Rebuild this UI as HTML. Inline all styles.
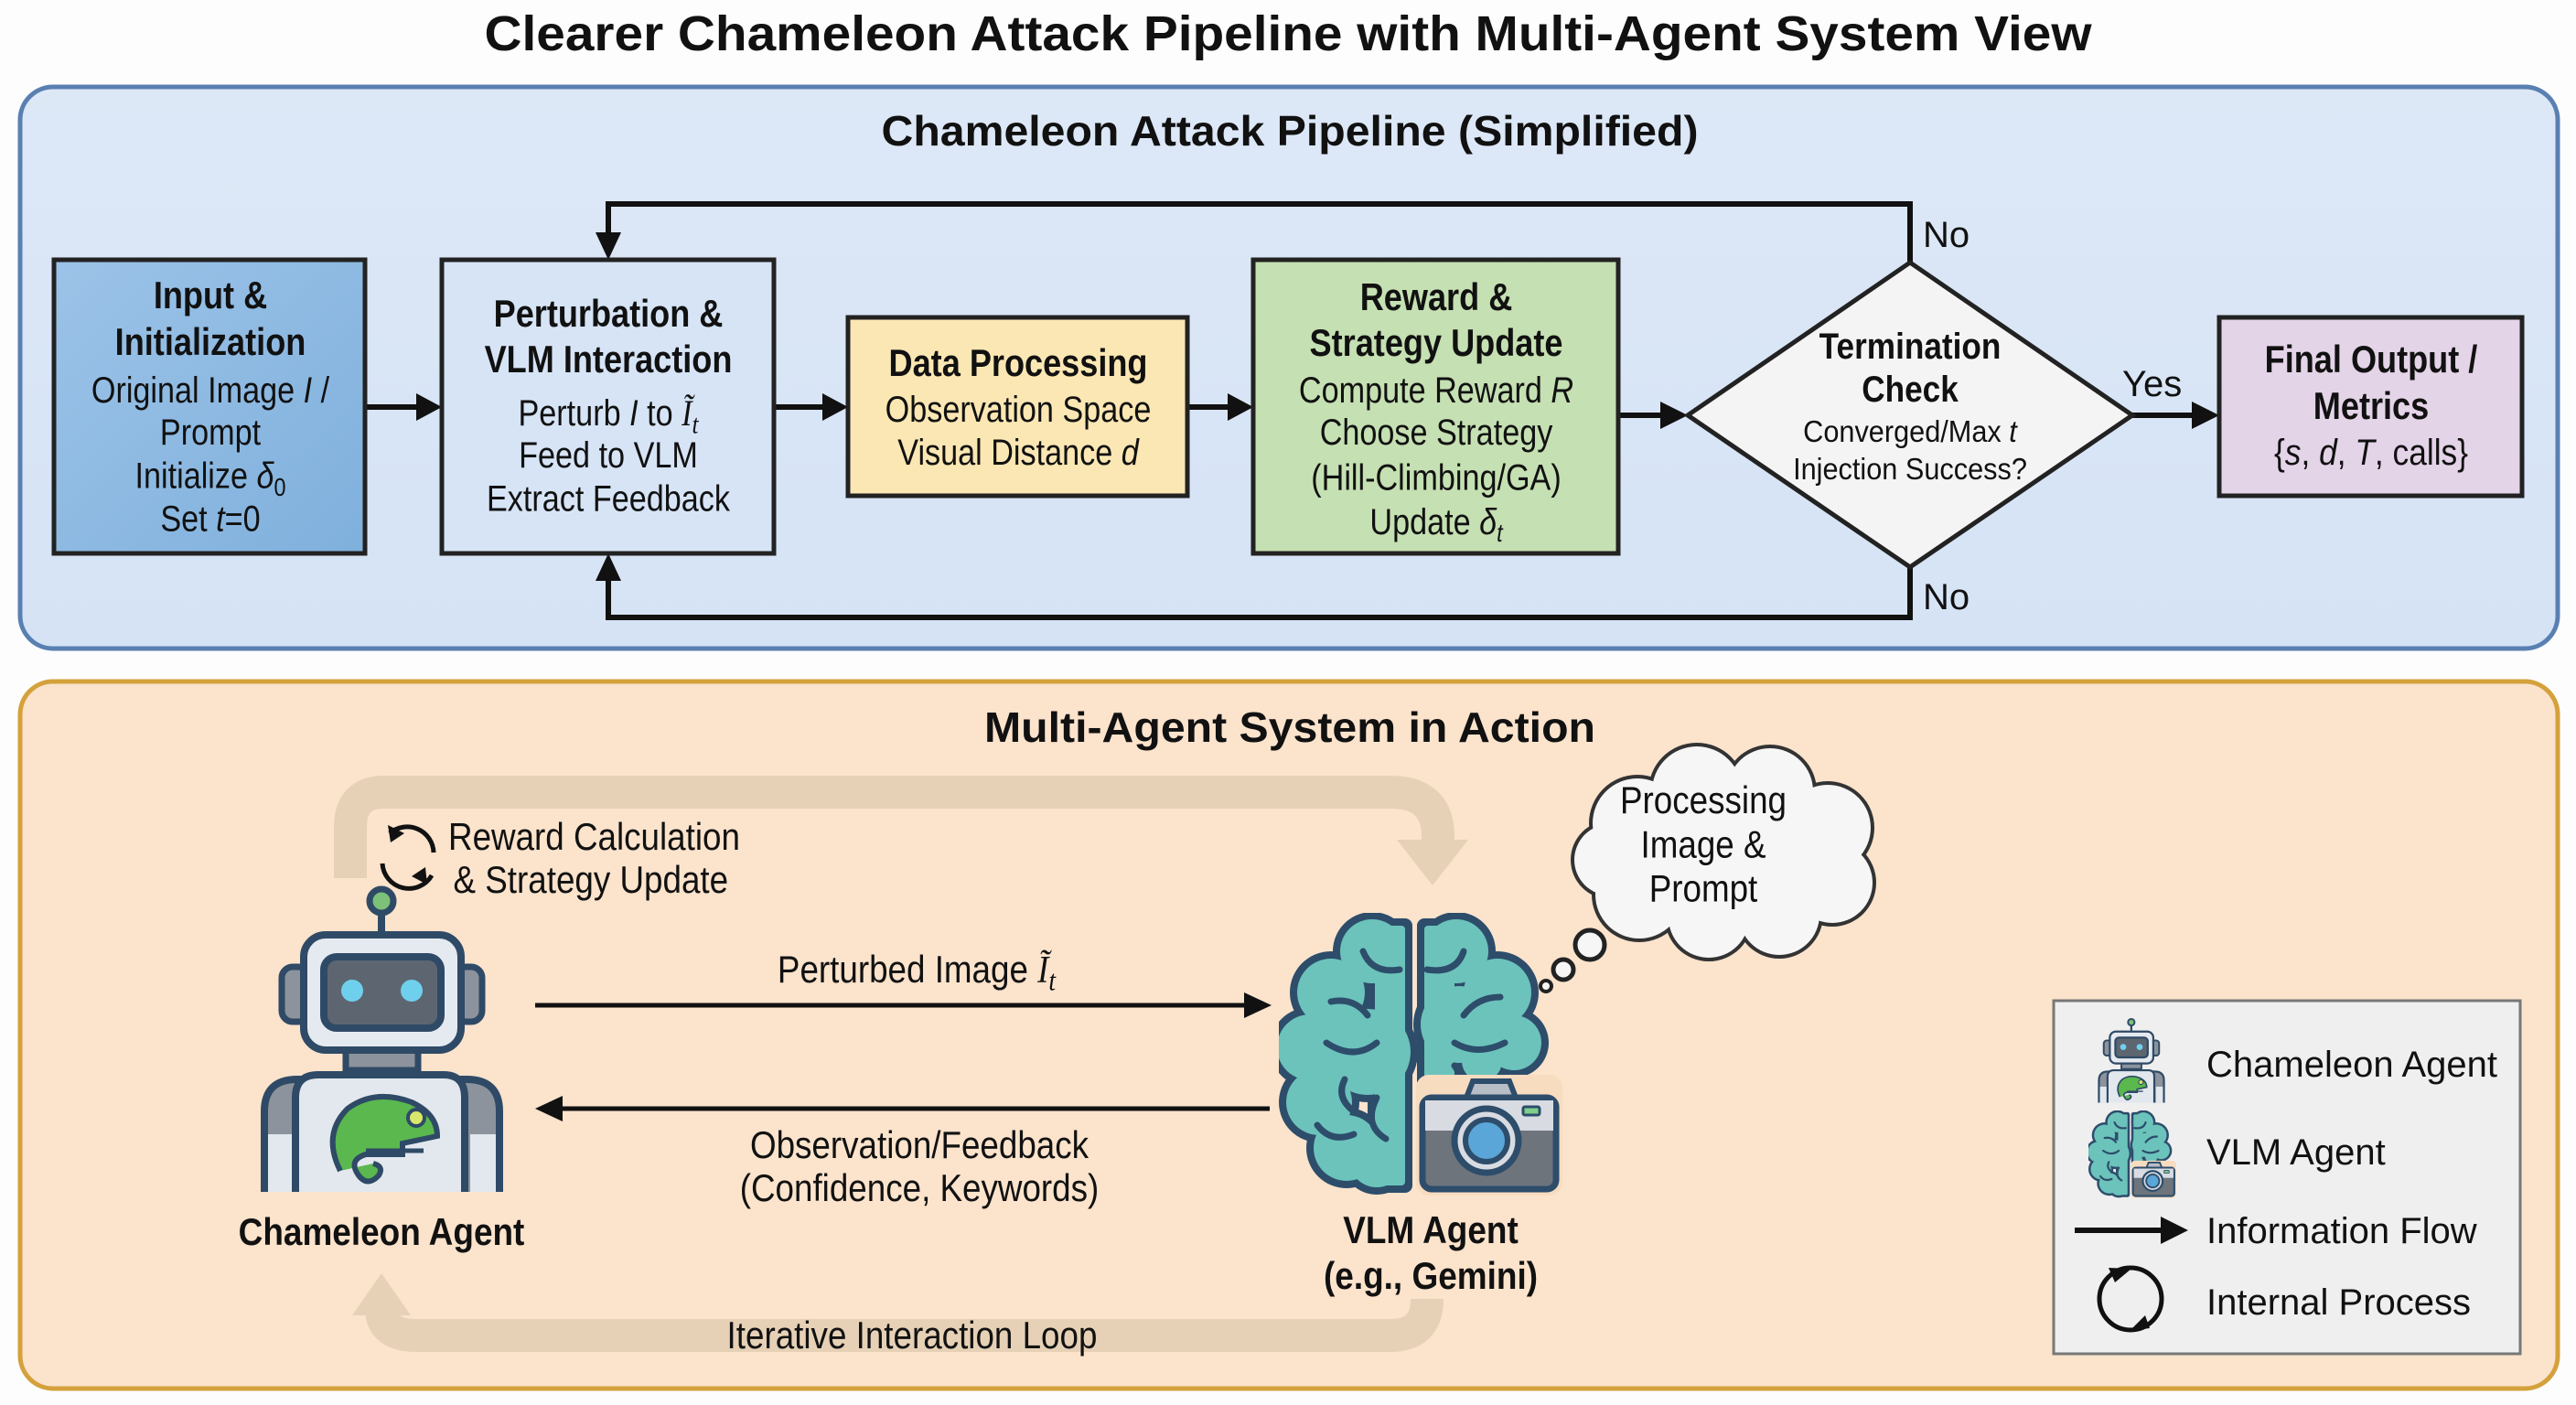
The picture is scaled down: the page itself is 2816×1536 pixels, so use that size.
<!DOCTYPE html>
<html><head><meta charset="utf-8"><style>
html,body{margin:0;padding:0;background:#fff}
svg{display:block}
text{font-family:"Liberation Sans",sans-serif;fill:#111}
.m{text-anchor:middle}
.b{font-weight:bold}
</style></head><body>
<svg width="2816" height="1536" viewBox="0 0 2816 1536" xmlns="http://www.w3.org/2000/svg">
<defs>
<linearGradient id="gIn" x1="0" y1="0" x2="1" y2="1"><stop offset="0" stop-color="#9cc3e8"/><stop offset="1" stop-color="#7fb0dc"/></linearGradient>
<linearGradient id="gPan" x1="0" y1="0" x2="0" y2="1"><stop offset="0" stop-color="#dde8f7"/><stop offset="1" stop-color="#d5e3f5"/></linearGradient>
<symbol id="robot" viewBox="280 965 275 340">
 <circle cx="417" cy="985" r="13" fill="#7cc07a" stroke="#2f4a66" stroke-width="7"/>
 <rect x="413" y="996" width="8" height="26" fill="#2f4a66"/>
 <rect x="308" y="1057" width="30" height="60" rx="12" fill="#8c939c" stroke="#2f4a66" stroke-width="7"/>
 <rect x="497" y="1057" width="30" height="60" rx="12" fill="#8c939c" stroke="#2f4a66" stroke-width="7"/>
 <rect x="378" y="1145" width="79" height="25" fill="#8c939c" stroke="#2f4a66" stroke-width="7"/>
 <path d="M289 1303 L289 1215 Q289 1180 325 1180 L510 1180 Q546 1180 546 1215 L546 1303" fill="#8c939c" stroke="#2f4a66" stroke-width="8"/>
 <path d="M323 1303 L323 1200 Q323 1175 348 1175 L485 1175 Q508 1175 508 1200 L508 1303" fill="#e3e8ee" stroke="#2f4a66" stroke-width="8"/>
 <rect x="293" y="1240" width="26" height="63" fill="#e3e8ee"/>
 <rect x="514" y="1240" width="28" height="63" fill="#e3e8ee"/>
 <rect x="332" y="1022" width="172" height="126" rx="24" fill="#e5eaf0" stroke="#2f4a66" stroke-width="8"/>
 <rect x="354" y="1046" width="128" height="78" rx="14" fill="#5d6670" stroke="#2f4a66" stroke-width="8"/>
 <circle cx="385" cy="1083" r="12" fill="#6fd0ee"/>
 <circle cx="450" cy="1083" r="12" fill="#6fd0ee"/>
 <path d="M372 1280 Q352 1240 380 1212 Q410 1190 450 1205 Q478 1218 478 1242 L440 1250 L440 1262 L400 1262 Q380 1268 392 1285 Q402 1298 414 1285 Q420 1275 408 1272" fill="#5ab84e" stroke="#2f4a66" stroke-width="6"/>
 <circle cx="455" cy="1222" r="9" fill="#d8e86a" stroke="#2f4a66" stroke-width="4"/>
 <line x1="400" y1="1258" x2="463" y2="1258" stroke="#2f4a66" stroke-width="5"/>
</symbol>
<symbol id="brain" viewBox="1398 998 310 310">
 <g fill="#2d4d6b">
  <circle cx="1500" cy="1040" r="43"/><circle cx="1455" cy="1085" r="45"/><circle cx="1432" cy="1145" r="44"/><circle cx="1442" cy="1205" r="44"/><circle cx="1472" cy="1255" r="44"/><circle cx="1505" cy="1268" r="38"/><circle cx="1495" cy="1150" r="55"/>
  <rect x="1495" y="1004" width="49" height="300" rx="8"/>
  <circle cx="1592" cy="1040" r="43"/><circle cx="1637" cy="1085" r="45"/><circle cx="1655" cy="1140" r="38"/><circle cx="1620" cy="1160" r="30"/><circle cx="1595" cy="1120" r="50"/>
  <rect x="1549" y="1004" width="49" height="186" rx="8"/>
 </g>
 <g fill="#6cc3bb">
  <circle cx="1500" cy="1040" r="35"/><circle cx="1455" cy="1085" r="37"/><circle cx="1432" cy="1145" r="36"/><circle cx="1442" cy="1205" r="36"/><circle cx="1472" cy="1255" r="36"/><circle cx="1505" cy="1268" r="30"/><circle cx="1495" cy="1150" r="47"/>
  <rect x="1503" y="1012" width="33" height="284" rx="4"/>
  <circle cx="1592" cy="1040" r="35"/><circle cx="1637" cy="1085" r="37"/><circle cx="1655" cy="1140" r="30"/><circle cx="1620" cy="1160" r="22"/><circle cx="1595" cy="1120" r="42"/>
  <rect x="1557" y="1012" width="33" height="170" rx="4"/>
 </g>
 <g fill="none" stroke="#2d4d6b" stroke-width="7" stroke-linecap="round">
  <path d="M1490 1040 Q1500 1065 1530 1060"/><path d="M1455 1095 Q1480 1090 1495 1110"/><path d="M1450 1140 Q1480 1160 1505 1140"/><path d="M1470 1180 Q1460 1200 1480 1215"/><path d="M1505 1200 Q1490 1230 1515 1245"/><path d="M1440 1230 Q1455 1250 1480 1240"/>
  <path d="M1600 1040 Q1592 1065 1560 1060"/><path d="M1640 1090 Q1615 1090 1600 1110"/><path d="M1645 1140 Q1615 1155 1590 1140"/><path d="M1590 1165 Q1600 1178 1585 1185"/>
 </g>
 <rect x="1548" y="1175" width="160" height="132" rx="14" fill="#f8dcc0"/>
 <path d="M1603 1200 L1610 1182 L1650 1182 L1657 1200 Z" fill="#b8bec6" stroke="#2d4d6b" stroke-width="6"/>
 <rect x="1555" y="1200" width="146" height="100" rx="10" fill="#6e747c" stroke="#2d4d6b" stroke-width="7"/>
 <rect x="1558" y="1203" width="140" height="33" fill="#d8dce2"/>
 <rect x="1665" y="1210" width="18" height="9" rx="2" fill="#7ed08a" stroke="#2d4d6b" stroke-width="3"/>
 <circle cx="1625" cy="1247" r="35" fill="#d8dce2" stroke="#2d4d6b" stroke-width="7"/>
 <circle cx="1625" cy="1247" r="23" fill="#5aa6d8" stroke="#2d4d6b" stroke-width="6"/>
</symbol>
</defs>
<rect width="2816" height="1536" fill="#fdfdfd"/>

<text x="1408" y="55" class="m b" font-size="54" textLength="1757" lengthAdjust="spacingAndGlyphs">Clearer Chameleon Attack Pipeline with Multi-Agent System View</text>

<rect x="22" y="95" width="2774" height="614" rx="36" fill="url(#gPan)" stroke="#5a80b2" stroke-width="5"/>
<text x="1410" y="159" class="m b" font-size="46" textLength="893" lengthAdjust="spacingAndGlyphs">Chameleon Attack Pipeline (Simplified)</text>

<g fill="none" stroke="#111" stroke-width="6">
 <polyline points="2088,287 2088,223 665,223 665,260"/>
 <polyline points="2088,620 2088,675 665,675 665,630"/>
 <line x1="399" y1="445" x2="460" y2="445"/>
 <line x1="846" y1="445" x2="905" y2="445"/>
 <line x1="1298" y1="445" x2="1348" y2="445"/>
 <line x1="1769" y1="454" x2="1822" y2="454"/>
 <line x1="2331" y1="454" x2="2405" y2="454"/>
</g>
<g fill="#111">
 <polygon points="665,284 651,254 679,254"/>
 <polygon points="665,605 651,635 679,635"/>
 <polygon points="483,445 455,430 455,460"/>
 <polygon points="927,445 899,430 899,460"/>
 <polygon points="1370,445 1342,430 1342,460"/>
 <polygon points="1845,454 1815,439 1815,469"/>
 <polygon points="2426,454 2396,439 2396,469"/>
</g>
<text x="2102" y="270" font-size="40">No</text>
<text x="2102" y="666" font-size="40">No</text>
<text x="2320" y="433" font-size="40">Yes</text>

<rect x="59" y="284" width="340" height="321" fill="url(#gIn)" stroke="#222" stroke-width="5"/>
<text transform="translate(230 337) scale(.86 1)" class="m b" font-size="42">Input &amp;<tspan x="0" dy="51">Initialization</tspan></text>
<text transform="translate(230 440) scale(.9 1.05)" class="m" font-size="38">Original Image <tspan font-style="italic">I</tspan> /<tspan x="0" dy="44">Prompt</tspan><tspan x="0" dy="45">Initialize <tspan font-style="italic">δ</tspan><tspan font-size="26" dy="8">0</tspan></tspan><tspan x="0" dy="37">Set <tspan font-style="italic">t</tspan>=0</tspan></text>

<rect x="483" y="284" width="363" height="321" fill="#d6e4f6" stroke="#222" stroke-width="5"/>
<text transform="translate(665 357) scale(.86 1)" class="m b" font-size="42">Perturbation &amp;<tspan x="0" dy="50">VLM Interaction</tspan></text>
<text transform="translate(665 465) scale(.9 1.05)" class="m" font-size="38">Perturb <tspan font-style="italic">I</tspan> to <tspan font-style="italic" font-family="Liberation Serif">Ĩ</tspan><tspan font-style="italic" font-family="Liberation Serif" font-size="28" dy="8">t</tspan><tspan x="0" dy="36">Feed to VLM</tspan><tspan x="0" dy="45">Extract Feedback</tspan></text>

<rect x="927" y="347" width="371" height="195" fill="#fbe7b3" stroke="#222" stroke-width="5"/>
<text transform="translate(1113 411) scale(.86 1)" class="m b" font-size="42">Data Processing</text>
<text transform="translate(1113 461) scale(.9 1.05)" class="m" font-size="38">Observation Space<tspan x="0" dy="45">Visual Distance <tspan font-style="italic">d</tspan></tspan></text>

<rect x="1370" y="284" width="399" height="321" fill="#c5e0b2" stroke="#222" stroke-width="5"/>
<text transform="translate(1570 339) scale(.86 1)" class="m b" font-size="42">Reward &amp;<tspan x="0" dy="50">Strategy Update</tspan></text>
<text transform="translate(1570 440) scale(.9 1.05)" class="m" font-size="38">Compute Reward <tspan font-style="italic">R</tspan><tspan x="0" dy="44">Choose Strategy</tspan><tspan x="0" dy="47">(Hill-Climbing/GA)</tspan><tspan x="0" dy="46">Update <tspan font-style="italic">δ</tspan><tspan font-size="26" font-style="italic" dy="8">t</tspan></tspan></text>

<polygon points="2088,287 2331,454 2088,620 1845,454" fill="#f4f4f4" stroke="#222" stroke-width="5"/>
<text transform="translate(2088 392) scale(.88 1)" class="m b" font-size="40">Termination<tspan x="0" dy="47">Check</tspan></text>
<text transform="translate(2088 483) scale(.93 1)" class="m" font-size="33">Converged/Max <tspan font-style="italic">t</tspan><tspan x="0" dy="41">Injection Success?</tspan></text>

<rect x="2426" y="347" width="331" height="195" fill="#e4d4e8" stroke="#222" stroke-width="5"/>
<text transform="translate(2592 407) scale(.86 1)" class="m b" font-size="42">Final Output /<tspan x="0" dy="51">Metrics</tspan></text>
<text transform="translate(2592 508) scale(.93 1.05)" class="m" font-size="38">{<tspan font-style="italic">s</tspan>, <tspan font-style="italic">d</tspan>, <tspan font-style="italic">T</tspan>, calls}</text>

<rect x="22" y="745" width="2774" height="773" rx="36" fill="#fbe3cc" stroke="#d4a13c" stroke-width="5"/>
<text x="1410" y="811" class="m b" font-size="46" textLength="668" lengthAdjust="spacingAndGlyphs">Multi-Agent System in Action</text>

<path d="M383 960 L383 905 Q383 866 420 866 L1520 866 Q1572 866 1572 915 L1572 925" fill="none" stroke="#e6d1b6" stroke-width="36"/>
<polygon points="1527,918 1605,918 1566,968" fill="#e6d1b6"/>
<path d="M1560 1420 Q1560 1460 1520 1460 L455 1460 Q417 1460 417 1430" fill="none" stroke="#e6d1b6" stroke-width="36" stroke-linejoin="round"/>
<polygon points="385,1438 449,1438 417,1392" fill="#e6d1b6"/>

<g fill="none" stroke="#111" stroke-width="5">
 <path d="M426 911 A29 29 0 0 1 474 932"/>
 <path d="M472 957 A29 29 0 0 1 418 944"/>
</g>
<polygon points="424,902 442,911 427,921" fill="#111"/>
<polygon points="467,967 450,958 465,948" fill="#111"/>
<text transform="translate(490 929) scale(.92 1.05)" font-size="40">Reward Calculation<tspan x="6" dy="45">&amp; Strategy Update</tspan></text>

<use href="#robot" x="280" y="965" width="275" height="340"/>
<text transform="translate(417 1361) scale(.88 1)" class="m b" font-size="42">Chameleon Agent</text>

<line x1="585" y1="1099" x2="1365" y2="1099" stroke="#111" stroke-width="5"/>
<polygon points="1390,1099 1360,1085 1360,1113" fill="#111"/>
<text transform="translate(1002 1074) scale(.92 1.05)" class="m" font-size="40">Perturbed Image <tspan font-style="italic" font-family="Liberation Serif">Ĩ</tspan><tspan font-style="italic" font-family="Liberation Serif" font-size="30" dy="8">t</tspan></text>
<line x1="610" y1="1212" x2="1388" y2="1212" stroke="#111" stroke-width="5"/>
<polygon points="585,1212 615,1198 615,1226" fill="#111"/>
<text transform="translate(1005 1266) scale(.92 1.05)" class="m" font-size="40">Observation/Feedback<tspan x="0" dy="45">(Confidence, Keywords)</tspan></text>
<text transform="translate(997 1474) scale(.92 1.05)" class="m" font-size="40">Iterative Interaction Loop</text>

<use href="#brain" x="1398" y="998" width="310" height="310"/>
<text transform="translate(1564 1359) scale(.88 1)" class="m b" font-size="42">VLM Agent<tspan x="0" dy="50">(e.g., Gemini)</tspan></text>

<g fill="#333">
 <circle cx="1790" cy="900" r="53"/><circle cx="1855" cy="865" r="53"/><circle cx="1935" cy="865" r="51"/><circle cx="1998" cy="905" r="51"/><circle cx="2003" cy="965" r="48"/><circle cx="1945" cy="1000" r="48"/><circle cx="1868" cy="1003" r="48"/><circle cx="1792" cy="978" r="52"/><circle cx="1760" cy="940" r="43"/><circle cx="1890" cy="935" r="80"/>
</g>
<g fill="#f6f6f6">
 <circle cx="1790" cy="900" r="49"/><circle cx="1855" cy="865" r="49"/><circle cx="1935" cy="865" r="47"/><circle cx="1998" cy="905" r="47"/><circle cx="2003" cy="965" r="44"/><circle cx="1945" cy="1000" r="44"/><circle cx="1868" cy="1003" r="44"/><circle cx="1792" cy="978" r="48"/><circle cx="1760" cy="940" r="39"/><circle cx="1890" cy="935" r="80"/>
</g>
<circle cx="1738" cy="1033" r="16" fill="#f6f6f6" stroke="#222" stroke-width="5"/>
<circle cx="1709" cy="1060" r="11" fill="#f6f6f6" stroke="#222" stroke-width="5"/>
<circle cx="1690" cy="1078" r="6" fill="#f6f6f6" stroke="#222" stroke-width="4"/>
<text transform="translate(1862 889) scale(.92 1.05)" class="m" font-size="40">Processing<tspan x="0" dy="46">Image &amp;</tspan><tspan x="0" dy="46">Prompt</tspan></text>

<rect x="2245" y="1094" width="510" height="386" fill="#efefef" stroke="#777" stroke-width="3"/>
<use href="#robot" x="2289" y="1112" width="82" height="94"/>
<use href="#brain" x="2283" y="1214" width="96" height="96"/>
<text x="2412" y="1177" font-size="40">Chameleon Agent</text>
<text x="2412" y="1273" font-size="40">VLM Agent</text>
<line x1="2268" y1="1345" x2="2370" y2="1345" stroke="#111" stroke-width="6"/>
<polygon points="2392,1345 2362,1330 2362,1360" fill="#111"/>
<text x="2412" y="1359" font-size="40">Information Flow</text>
<circle cx="2329" cy="1420" r="34" fill="none" stroke="#111" stroke-width="5"/>
<polygon points="2305,1386 2330,1387 2312,1402" fill="#111"/>
<polygon points="2350,1452 2328,1455 2345,1438" fill="#111"/>
<text x="2412" y="1437" font-size="40">Internal Process</text>
</svg>
</body></html>
